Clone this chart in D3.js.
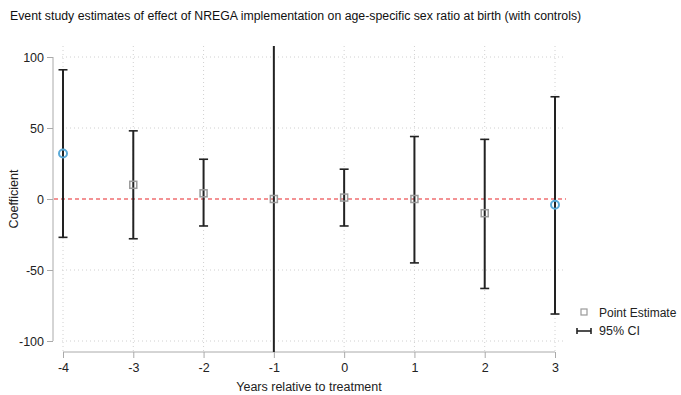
<!DOCTYPE html>
<html><head><meta charset="utf-8">
<script src="https://cdn.jsdelivr.net/npm/d3@7"></script>
<style>body{margin:0;background:#fff;}svg{display:block;font-family:"Liberation Sans",Arial,sans-serif;}</style>
</head><body>
<svg id="c" width="681" height="395"></svg>
<script>
const years = [-4,-3,-2,-1,0,1,2,3];
const estimates = [32,10,4,0,1,0,-10,-4];
const ciLow = [-27,-28,-19,-150,-19,-45,-63,-81];
const ciHigh = [91,48,28,150,21,44,42,72];
const highlighted = [true,false,false,false,false,false,false,true];
const yTicks = [100,50,0,-50,-100];
const xTicks = [-4,-3,-2,-1,0,1,2,3];

(function(){
const svg = d3.select("#c");
const x = d3.scaleLinear().domain([-4,3]).range([63,555]);
const y = d3.scaleLinear().domain([-100,100]).range([341,57]);
const pTop = 46, pBottom = 351, pLeft = 53, pRight = 566;
const fmt = d => String(d);

svg.append("text").attr("x",10).attr("y",20).attr("font-size",12.3).attr("fill","#111")
  .text("Event study estimates of effect of NREGA implementation on age-specific sex ratio at birth (with controls)");

const g = svg.append("g");
yTicks.filter(d=>d!==0).forEach(t=>{
  g.append("line").attr("x1",62).attr("x2",pRight).attr("y1",y(t)).attr("y2",y(t))
   .attr("stroke","#d0d0d0").attr("stroke-width",1).attr("stroke-dasharray","1,3");
});
xTicks.forEach(t=>{
  g.append("line").attr("x1",x(t)).attr("x2",x(t)).attr("y1",pTop).attr("y2",pBottom)
   .attr("stroke","#d0d0d0").attr("stroke-width",1).attr("stroke-dasharray","1,3");
});
svg.append("line").attr("x1",pLeft+1).attr("x2",pRight).attr("y1",y(0)).attr("y2",y(0))
  .attr("stroke","#e8262a").attr("stroke-width",1.2).attr("stroke-dasharray","4,3");

const yAxis = svg.append("g").attr("transform",`translate(${pLeft},0)`)
  .call(d3.axisLeft(y).tickValues(yTicks).tickFormat(fmt).tickSize(6).tickPadding(3));
yAxis.select(".domain").attr("stroke","#aaa").attr("d",`M0,${y(100)}V${y(-100)}`);
yAxis.selectAll(".tick line").attr("stroke","#aaa");
yAxis.selectAll("text").attr("font-size",12.5).attr("fill","#222").attr("font-family","Liberation Sans, Arial, sans-serif");

const xAxis = svg.append("g").attr("transform",`translate(0,${pBottom+1})`)
  .call(d3.axisBottom(x).tickValues(xTicks).tickFormat(fmt).tickSize(6).tickPadding(5));
xAxis.select(".domain").attr("stroke","#aaa").attr("d",`M${x(-4)},0H${x(3)}`);
xAxis.selectAll(".tick line").attr("stroke","#aaa");
xAxis.selectAll("text").attr("font-size",12.5).attr("fill","#222").attr("font-family","Liberation Sans, Arial, sans-serif");

svg.append("text").attr("x",309).attr("y",391).attr("text-anchor","middle").attr("font-size",12.5).attr("fill","#222")
  .text("Years relative to treatment");
svg.append("text").attr("transform",`translate(18,${y(0)}) rotate(-90)`).attr("text-anchor","middle")
  .attr("font-size",12.5).attr("fill","#222").text("Coefficient");

svg.append("clipPath").attr("id","clip").append("rect")
  .attr("x",0).attr("y",pTop).attr("width",681).attr("height",pBottom-pTop+1);

const data = years.map((yr,i)=>({yr,est:estimates[i],lo:ciLow[i],hi:ciHigh[i],hl:highlighted[i]}));
const pg = svg.append("g").attr("clip-path","url(#clip)");
data.forEach(d=>{
  pg.append("line").attr("x1",x(d.yr)).attr("x2",x(d.yr)).attr("y1",y(d.hi)).attr("y2",y(d.lo))
    .attr("stroke","#222").attr("stroke-width",2);
  [d.hi,d.lo].forEach(v=>{
    pg.append("line").attr("x1",x(d.yr)-4.5).attr("x2",x(d.yr)+4.5).attr("y1",y(v)).attr("y2",y(v))
      .attr("stroke","#222").attr("stroke-width",1.6);
  });
});
data.forEach(d=>{
  if(d.hl){
    pg.append("circle").attr("cx",x(d.yr)).attr("cy",y(d.est)).attr("r",4)
      .attr("fill","none").attr("stroke","#5aaad8").attr("stroke-width",2);
  } else {
    pg.append("rect").attr("x",x(d.yr)-3.5).attr("y",y(d.est)-3.5).attr("width",7).attr("height",7)
      .attr("fill","none").attr("stroke","#9a9a9a").attr("stroke-width",1.5);
  }
});

const lg = svg.append("g");
lg.append("rect").attr("x",581).attr("y",309).attr("width",6).attr("height",6)
  .attr("fill","none").attr("stroke","#9a9a9a").attr("stroke-width",1.2);
lg.append("text").attr("x",599).attr("y",317).attr("font-size",12).attr("fill","#222").text("Point Estimate");
lg.append("line").attr("x1",577).attr("x2",591).attr("y1",331).attr("y2",331).attr("stroke","#222").attr("stroke-width",1.6);
lg.append("line").attr("x1",577).attr("x2",577).attr("y1",328).attr("y2",334).attr("stroke","#222").attr("stroke-width",1.6);
lg.append("line").attr("x1",591).attr("x2",591).attr("y1",328).attr("y2",334).attr("stroke","#222").attr("stroke-width",1.6);
lg.append("text").attr("x",599).attr("y",335).attr("font-size",12.5).attr("fill","#222").text("95% CI");
})();
</script>
</body></html>
